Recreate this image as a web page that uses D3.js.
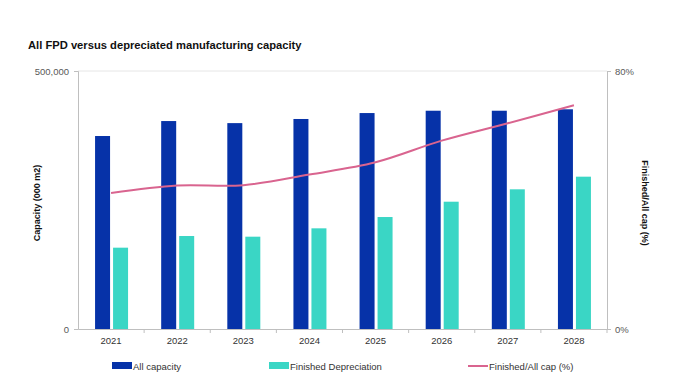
<!DOCTYPE html>
<html><head><meta charset="utf-8">
<script src="https://cdn.jsdelivr.net/npm/d3@7/dist/d3.min.js"></script>
<style>body{margin:0;background:#fff;}svg{display:block;font-family:"Liberation Sans",Arial,sans-serif;}</style>
</head><body><svg id="c" width="689" height="378"></svg>
<script>
const years = ["2021","2022","2023","2024","2025","2026","2027","2028"];
const allCapacity = [374000,403000,399000,407000,418500,423000,423000,425800];
const finishedDep = [157600,180200,178900,195100,217000,246700,270700,295200];
const ratioPct = [42.2,44.5,44.6,47.9,51.7,58.4,63.8,69.4];
const leftTicks = [0,500000];
const rightTicks = [0,80];

const svg = d3.select("#c");
const L=78,R=607,T=71,B=329;
const x = d3.scaleBand().domain(years).range([L,R]);
const y = d3.scaleLinear().domain([0,500000]).range([B,T]);
const y2 = d3.scaleLinear().domain([0,80]).range([B,T]);
const cBlue="#0632a8", cTeal="#3ad6c5", cLine="#d9648f", gray="#bfbfbf", txt="#595959";

svg.append("text").attr("x",28).attr("y",49).attr("font-size",11.2).attr("font-weight","bold").attr("fill","#111")
  .text("All FPD versus depreciated manufacturing capacity");

// gridline top
svg.append("line").attr("x1",L).attr("x2",R).attr("y1",y(500000)).attr("y2",y(500000)).attr("stroke","#e6e6e6");

// left axis
const ga = svg.append("g").attr("transform",`translate(${L},0)`)
  .call(d3.axisLeft(y).tickValues(leftTicks).tickSize(4).tickFormat(d3.format(",")));
// right axis
const gr = svg.append("g").attr("transform",`translate(${R},0)`)
  .call(d3.axisRight(y2).tickValues(rightTicks).tickSize(4).tickFormat(d=>d+"%"));
[ga,gr].forEach(g=>{
  g.select(".domain").attr("stroke",gray);
  g.selectAll(".tick line").attr("stroke",gray);
  g.selectAll(".tick text").attr("fill",txt).attr("font-size",9.5).attr("font-family","Liberation Sans,Arial,sans-serif");
});
ga.selectAll(".tick text").attr("x",-9);
gr.selectAll(".tick text").attr("x",8);

// bars
const bw=15, gap=3;
svg.append("g").selectAll("rect").data(years).join("rect")
  .attr("x",d=>x(d)+x.bandwidth()/2-bw-gap/2+0.5).attr("width",bw)
  .attr("y",(d,i)=>y(allCapacity[i])).attr("height",(d,i)=>B-y(allCapacity[i])).attr("fill",cBlue);
svg.append("g").selectAll("rect").data(years).join("rect")
  .attr("x",d=>x(d)+x.bandwidth()/2+gap/2+0.5).attr("width",bw)
  .attr("y",(d,i)=>y(finishedDep[i])).attr("height",(d,i)=>B-y(finishedDep[i])).attr("fill",cTeal);

// bottom axis
const gb = svg.append("g").attr("transform",`translate(0,${B})`).call(d3.axisBottom(x).tickSize(0));
gb.select(".domain").attr("stroke",gray);
gb.selectAll(".tick text").attr("fill","#333").attr("font-size",9.5).attr("dy","1.3em").attr("font-family","Liberation Sans,Arial,sans-serif");
svg.append("g").selectAll("line").data(years.slice(1).concat(["end"])).join("line")
  .attr("x1",(d,i)=>L+x.step()*(i+1)).attr("x2",(d,i)=>L+x.step()*(i+1))
  .attr("y1",B).attr("y2",B+4).attr("stroke",gray);

// line
const line = d3.line().x((d,i)=>x(years[i])+x.bandwidth()/2).y(d=>y2(d)).curve(d3.curveCatmullRom.alpha(0.5));
svg.append("path").datum(ratioPct).attr("d",line).attr("fill","none").attr("stroke",cLine).attr("stroke-width",2);

// axis titles
svg.append("text").attr("transform","translate(40,203) rotate(-90)").attr("text-anchor","middle")
  .attr("font-size",9).attr("font-weight","bold").attr("fill","#111").text("Capacity (000 m2)");
svg.append("text").attr("transform","translate(642,203) rotate(90)").attr("text-anchor","middle")
  .attr("font-size",9).attr("font-weight","bold").attr("fill","#111").text("Finished/All cap (%)");

// legend
const leg = [
  {label:"All capacity", type:"rect", color:cBlue, x:112},
  {label:"Finished Depreciation", type:"rect", color:cTeal, x:269},
  {label:"Finished/All cap (%)", type:"line", color:cLine, x:468}
];
const lg = svg.append("g").selectAll("g").data(leg).join("g").attr("transform",d=>`translate(${d.x},366)`);
lg.filter(d=>d.type==="rect").append("rect").attr("x",0).attr("y",-4).attr("width",20).attr("height",7).attr("fill",d=>d.color);
lg.filter(d=>d.type==="line").append("line").attr("x1",0).attr("x2",20).attr("y1",0).attr("y2",0).attr("stroke",d=>d.color).attr("stroke-width",2);
lg.append("text").attr("x",21).attr("y",3.5).attr("font-size",9.5).attr("fill","#333").text(d=>d.label);
</script></body></html>
